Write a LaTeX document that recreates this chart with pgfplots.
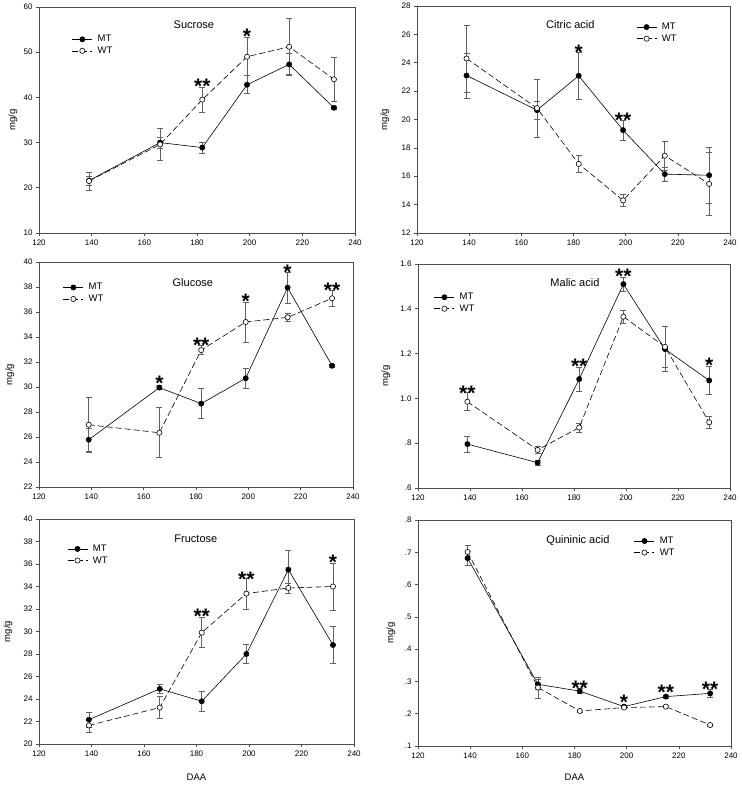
\documentclass[border=0pt]{standalone}
\usepackage{fontspec}
\setmainfont{Liberation Sans}
\usepackage{pgfplots}
\usepackage{pgfplotstable}
\pgfplotsset{compat=1.18}

\definecolor{ax}{gray}{0.30}
\definecolor{eb}{gray}{0.38}

\pgfplotstableread{
x MT MTe WT WTe
139 21.6 1.0 21.5 2.0
166 30.0 1.2 29.6 3.6
182 28.9 1.2 39.5 2.7
199 42.8 2.0 49.0 4.2
215 47.3 2.5 51.2 6.2
232 37.7 0.4 44.0 4.8
}\sucrose

\pgfplotstableread{
x MT MTe WT WTe
139 23.1 1.6 24.3 2.35
166 20.66 0.65 20.8 2.05
182 23.08 1.64 16.87 0.6
199 19.25 0.7 14.3 0.45
215 16.15 0.5 17.45 1.0
232 16.07 2.0 15.46 2.2
}\citric

\pgfplotstableread{
x MT MTe WT WTe
139 25.78 0.9 26.98 2.2
166 29.95 0.15 26.34 2.0
182 28.67 1.2 32.95 0.35
199 30.7 0.8 35.2 1.6
215 37.95 1.26 35.57 0.3
232 31.7 0.1 37.1 0.65
}\glucose

\pgfplotstableread{
x MT MTe WT WTe
139 0.796 0.035 0.985 0.04
166 0.713 0.01 0.77 0.015
182 1.086 0.055 0.87 0.02
199 1.51 0.032 1.365 0.028
215 1.22 0.1 1.23 0.09
232 1.08 0.062 0.893 0.025
}\malic

\pgfplotstableread{
x MT MTe WT WTe
139 22.16 0.66 21.65 0.57
166 24.9 0.38 23.24 1.0
182 23.8 0.88 29.9 1.34
199 28.0 0.83 33.37 1.37
215 35.5 1.74 33.87 0.45
232 28.8 1.65 34.0 2.1
}\fructose

\pgfplotstableread{
x MT MTe WT WTe
139 0.682 0.021 0.701 0.022
166 0.291 0.015 0.281 0.032
182 0.270 0.008 0.2085 0.003
199 0.222 0.005 0.219 0.003
215 0.253 0.005 0.222 0.003
232 0.263 0.013 0.165 0.003
}\quininic

\tikzset{
  ttl/.style={font=\fontsize{11}{12}\selectfont, anchor=center},
  stars/.style={font=\fontsize{21}{21}\selectfont\bfseries, inner sep=0pt, anchor=base, yshift=-12pt},
}

\pgfplotsset{
  legend image code/.code={\draw[#1, mark repeat=2, mark phase=2] plot coordinates {(0pt,0pt) (10pt,0pt) (20pt,0pt)};},
  panel/.style={
    scale only axis, clip=false,
    xmin=120, xmax=240, xtick={120,140,...,240},
    axis line style={ax, line width=0.6pt},
    tick style={ax, line width=0.6pt},
    tick align=outside, xtick pos=bottom, ytick pos=left,
    major tick length=3pt,
    tick label style={font=\fontsize{8}{9}\selectfont},
    /pgf/number format/assume math mode=true,
    label style={font=\fontsize{9.5}{11}\selectfont},
    ylabel={mg/g},
    legend style={draw=none, fill=none, inner sep=0pt, font=\fontsize{9.5}{11}\selectfont,
      row sep=1.5pt, column sep=4pt, cells={anchor=west}, anchor=north west,
      nodes={inner sep=1pt}},
  },
  mt/.style={black, line width=0.6pt, mark=*, mark size=2.6pt, mark options={solid, fill=black},
    error bars/.cd, y dir=both, y explicit,
    error bar style={eb, line width=0.6pt, solid},
    error mark options={rotate=90, mark size=3pt, eb, line width=0.6pt, solid}},
  wt/.style={black, line width=0.6pt, dash pattern=on 6pt off 3pt, mark=*, mark size=2.6pt,
    mark options={solid, fill=white, draw=black},
    error bars/.cd, y dir=both, y explicit,
    error bar style={eb, line width=0.6pt, solid},
    error mark options={rotate=90, mark size=3pt, eb, line width=0.6pt, solid}},
}

\begin{document}
\begin{tikzpicture}
\useasboundingbox (0,0) rectangle (742pt,785pt);

% Sucrose
\begin{axis}[panel, at={(39pt,552pt)}, anchor=south west, width=316pt, height=226pt,
  ymin=10, ymax=60, ytick={10,20,...,60},
  ylabel style={at={(axis description cs:0,0.5)}, anchor=center, yshift=26pt},
  legend style={at={(axis description cs:0.104,0.88)}}]
\addplot+[mt] table[x=x, y=MT, y error=MTe] {\sucrose};
\addplot+[wt] table[x=x, y=WT, y error=WTe] {\sucrose};
\legend{MT,WT}
\node[ttl] at (axis description cs:0.49,0.92) {Sucrose};
\node[stars] at (axis cs:182,43.5) {**};
\node[stars] at (axis cs:199,54.5) {*};
\end{axis}

% Citric acid
\begin{axis}[panel, at={(417pt,552pt)}, anchor=south west, width=313pt, height=227pt,
  ymin=12, ymax=28, ytick={12,14,...,28},
  ylabel style={at={(axis description cs:0,0.5)}, anchor=center, yshift=32pt},
  legend style={at={(axis description cs:0.70,0.93)}}]
\addplot+[mt] table[x=x, y=MT, y error=MTe] {\citric};
\addplot+[wt] table[x=x, y=WT, y error=WTe] {\citric};
\legend{MT,WT}
\node[ttl] at (axis description cs:0.49,0.916) {Citric acid};
\node[stars] at (axis cs:182,25.1) {*};
\node[stars] at (axis cs:199,20.3) {**};
\end{axis}

% Glucose
\begin{axis}[panel, at={(39pt,298pt)}, anchor=south west, width=314pt, height=225pt,
  ymin=22, ymax=40, ytick={22,24,...,40},
  ylabel style={at={(axis description cs:0,0.5)}, anchor=center, yshift=29pt},
  legend style={at={(axis description cs:0.076,0.91)}}]
\addplot+[mt] table[x=x, y=MT, y error=MTe] {\glucose};
\addplot+[wt] table[x=x, y=WT, y error=WTe] {\glucose};
\legend{MT,WT}
\node[ttl] at (axis description cs:0.49,0.91) {Glucose};
\node[stars] at (axis cs:166,30.7) {*};
\node[stars] at (axis cs:182,33.7) {**};
\node[stars] at (axis cs:199,37.2) {*};
\node[stars] at (axis cs:215,39.55) {*};
\node[stars] at (axis cs:232,38.1) {**};
\end{axis}

% Malic acid
\begin{axis}[panel, at={(418pt,297pt)}, anchor=south west, width=312pt, height=224pt,
  ymin=0.6, ymax=1.6, ytick={0.6,0.8,1.0,1.2,1.4,1.6},
  yticklabels={.6,.8,1.0,1.2,1.4,1.6},
  ylabel style={at={(axis description cs:0,0.5)}, anchor=center, yshift=32pt},
  legend style={at={(axis description cs:0.051,0.875)}}]
\addplot+[mt] table[x=x, y=MT, y error=MTe] {\malic};
\addplot+[wt] table[x=x, y=WT, y error=WTe] {\malic};
\legend{MT,WT}
\node[ttl] at (axis description cs:0.503,0.915) {Malic acid};
\node[stars] at (axis cs:139,1.044) {**};
\node[stars] at (axis cs:182,1.163) {**};
\node[stars] at (axis cs:199,1.566) {**};
\node[stars] at (axis cs:232,1.168) {*};
\end{axis}

% Fructose
\begin{axis}[panel, at={(39pt,41pt)}, anchor=south west, width=315pt, height=225pt,
  ymin=20, ymax=40, ytick={20,22,...,40},
  ylabel style={at={(axis description cs:0,0.5)}, anchor=center, yshift=31pt},
  xlabel={DAA},
  xlabel style={at={(axis description cs:0.5,0)}, anchor=center, yshift=-33pt},
  legend style={at={(axis description cs:0.089,0.89)}}]
\addplot+[mt] table[x=x, y=MT, y error=MTe] {\fructose};
\addplot+[wt] table[x=x, y=WT, y error=WTe] {\fructose};
\legend{MT,WT}
\node[ttl] at (axis description cs:0.498,0.911) {Fructose};
\node[stars] at (axis cs:182,31.75) {**};
\node[stars] at (axis cs:199,35.1) {**};
\node[stars] at (axis cs:232,36.6) {*};
\end{axis}

% Quininic acid
\begin{axis}[panel, at={(418pt,39pt)}, anchor=south west, width=313pt, height=226pt,
  ymin=0.1, ymax=0.8, ytick={0.1,0.2,...,0.8},
  yticklabels={.1,.2,.3,.4,.5,.6,.7,.8},
  ylabel style={at={(axis description cs:0,0.5)}, anchor=center, yshift=27pt},
  xlabel={DAA},
  xlabel style={at={(axis description cs:0.5,0)}, anchor=center, yshift=-31pt},
  legend style={at={(axis description cs:0.69,0.93)}}]
\addplot+[mt] table[x=x, y=MT, y error=MTe] {\quininic};
\addplot+[wt] table[x=x, y=WT, y error=WTe] {\quininic};
\legend{MT,WT}
\node[ttl] at (axis description cs:0.511,0.91) {Quininic acid};
\node[stars] at (axis cs:182,0.295) {**};
\node[stars] at (axis cs:199,0.249) {*};
\node[stars] at (axis cs:215,0.28) {**};
\node[stars] at (axis cs:232,0.289) {**};
\end{axis}
\end{tikzpicture}
\end{document}
